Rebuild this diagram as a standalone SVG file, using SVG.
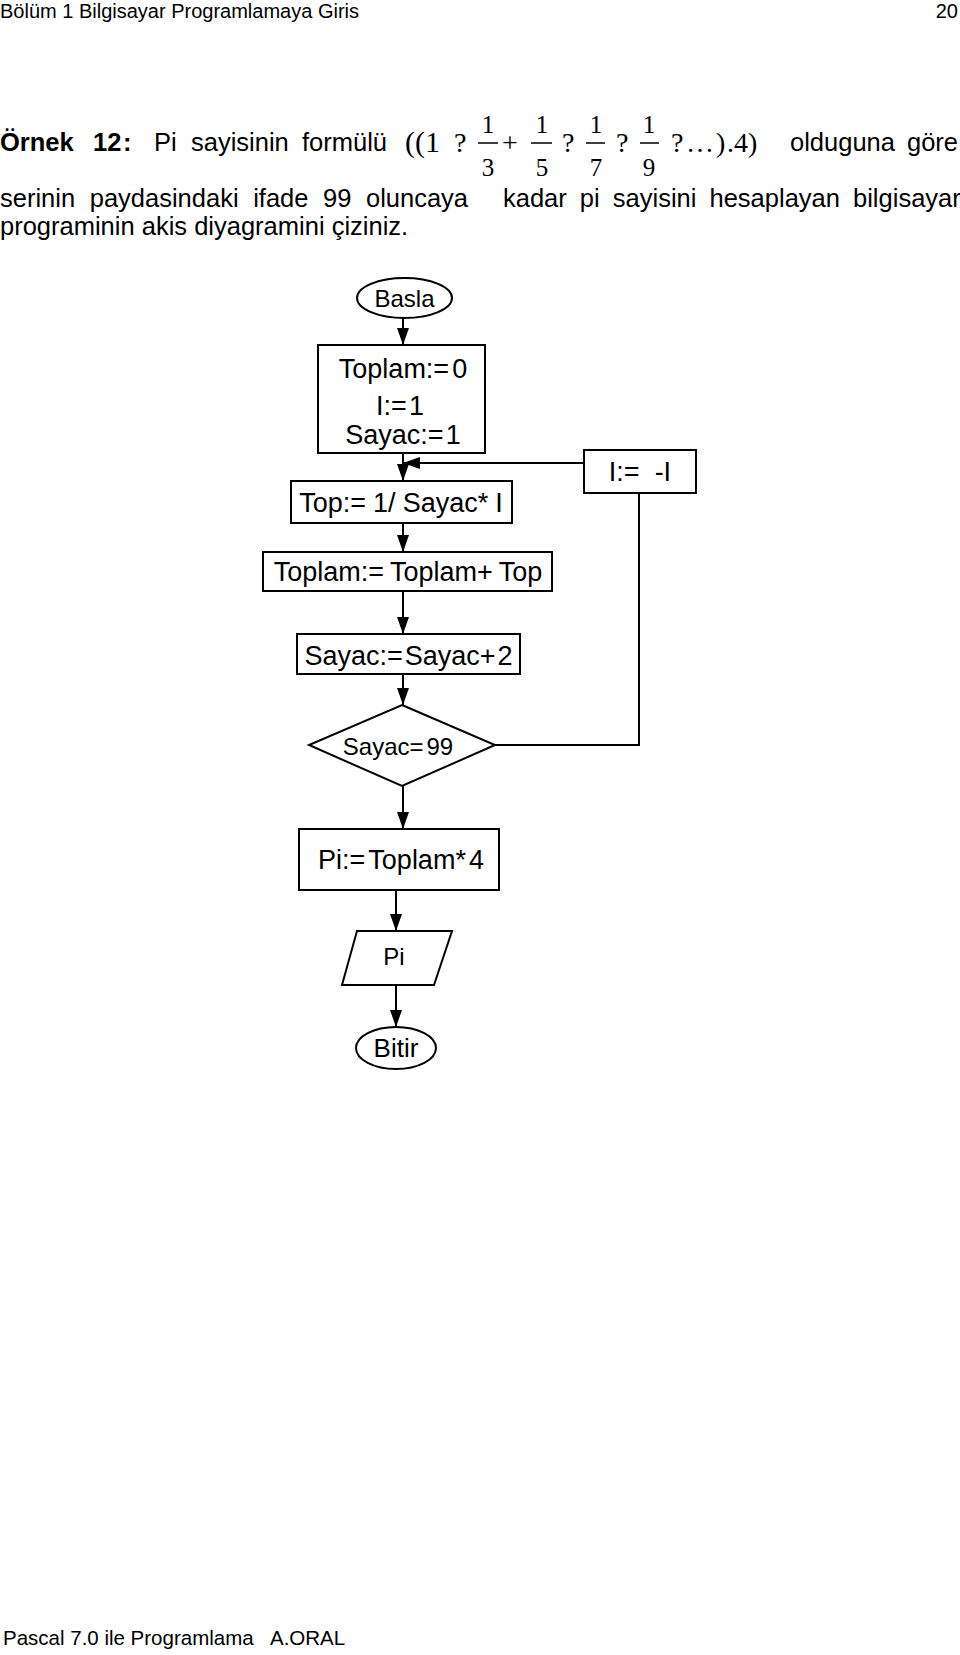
<svg xmlns="http://www.w3.org/2000/svg" width="960" height="1655" viewBox="0 0 960 1655">
<defs>
<style>
text{font-family:"Liberation Sans",Arial,sans-serif;fill:#000}
.hdr{font-size:20px}
.body{font-size:25.5px}
.b{font-weight:bold}
.m{font-family:"Liberation Serif","Times New Roman",serif;font-size:28px}
.f{font-family:"Liberation Serif","Times New Roman",serif;font-size:25px;text-anchor:middle}
.n{font-size:27px;text-anchor:middle}
.s{font-size:24px;text-anchor:middle}
.shape{fill:#fff;stroke:#000;stroke-width:2}
.ln{fill:none;stroke:#000;stroke-width:2}
.bar{stroke:#000;stroke-width:1.5}
</style>
<marker id="ah" markerUnits="userSpaceOnUse" markerWidth="17" markerHeight="12" refX="17" refY="6" orient="auto">
<path d="M0,0 L17,6 L0,12 z" fill="#000"/>
</marker>
</defs>
<rect width="960" height="1655" fill="#fff"/>

<g id="header">
<text class="hdr" x="0" y="18">Bölüm 1 Bilgisayar Programlamaya Giris</text>
<text class="hdr" x="958" y="18" text-anchor="end">20</text>
</g>

<g id="question">
<text class="body b" x="0" y="151">Örnek</text>
<text class="body b" x="93" y="151">12</text>
<text class="body b" x="123" y="151">:</text>
<text class="body" x="154" y="151">Pi</text>
<text class="body" x="191" y="151">sayisinin</text>
<text class="body" x="302" y="151">formülü</text>
<text class="m" x="405" y="152" style="font-size:30px">((1</text>
<text class="m" x="454" y="152">?</text>
<text class="f" x="488" y="133">1</text>
<line class="bar" x1="478" y1="143" x2="498" y2="143"/>
<text class="f" x="488" y="176">3</text>
<text class="m" x="502" y="152">+</text>
<text class="f" x="542" y="133">1</text>
<line class="bar" x1="531" y1="143" x2="552" y2="143"/>
<text class="f" x="542" y="176">5</text>
<text class="m" x="562" y="152">?</text>
<text class="f" x="596" y="133">1</text>
<line class="bar" x1="586" y1="143" x2="605" y2="143"/>
<text class="f" x="596" y="176">7</text>
<text class="m" x="616" y="152">?</text>
<text class="f" x="649" y="133">1</text>
<line class="bar" x1="640" y1="143" x2="659" y2="143"/>
<text class="f" x="649" y="176">9</text>
<text class="m" x="671" y="152">?</text>
<text class="m" x="686" y="152">…</text>
<text class="m" x="716" y="152">)</text>
<text class="m" x="727" y="152">.4)</text>
<text class="body" x="790" y="151">olduguna</text>
<text class="body" x="958" y="151" text-anchor="end">göre</text>
<text class="body" x="0" y="207" word-spacing="7.5">serinin paydasindaki ifade 99 oluncaya</text>
<text class="body" x="503" y="207" word-spacing="6">kadar pi sayisini hesaplayan bilgisayar</text>
<text class="body" x="0" y="235">programinin akis diyagramini çiziniz.</text>
</g>

<g id="connectors">
<line class="ln" x1="403" y1="318" x2="403" y2="345" marker-end="url(#ah)"/>
<line class="ln" x1="403" y1="453" x2="403" y2="481" marker-end="url(#ah)"/>
<line class="ln" x1="584" y1="463" x2="403" y2="463" marker-end="url(#ah)"/>
<line class="ln" x1="403" y1="523" x2="403" y2="552" marker-end="url(#ah)"/>
<line class="ln" x1="403" y1="591" x2="403" y2="634" marker-end="url(#ah)"/>
<line class="ln" x1="403" y1="674" x2="403" y2="705" marker-end="url(#ah)"/>
<polyline class="ln" points="495,745 639,745 639,493"/>
<line class="ln" x1="403" y1="786" x2="403" y2="829" marker-end="url(#ah)"/>
<line class="ln" x1="396" y1="890" x2="396" y2="931" marker-end="url(#ah)"/>
<line class="ln" x1="396" y1="985" x2="396" y2="1027" marker-end="url(#ah)"/>
</g>

<g id="basla">
<ellipse class="shape" cx="404.5" cy="298" rx="47.5" ry="20"/>
<text class="s" x="404.5" y="307">Basla</text>
</g>

<g id="init">
<rect class="shape" x="318" y="345" width="167" height="108"/>
<text class="n" x="403" y="378">Toplam:=<tspan dx="3">0</tspan></text>
<text class="n" x="400" y="415">I:=<tspan dx="2">1</tspan></text>
<text class="n" x="403" y="444">Sayac:=<tspan dx="2">1</tspan></text>
</g>

<g id="negate">
<rect class="shape" x="584" y="450" width="112" height="43"/>
<text class="n" x="640" y="481" xml:space="preserve">I:=  -I</text>
</g>

<g id="top">
<rect class="shape" x="291" y="481" width="221" height="42"/>
<text class="n" x="401" y="512">Top:=<tspan dx="7">1/</tspan><tspan dx="7">Sayac*</tspan><tspan dx="7">I</tspan></text>
</g>

<g id="sum">
<rect class="shape" x="263" y="552" width="289" height="39"/>
<text class="n" x="408" y="581">Toplam:=<tspan dx="6">Toplam+</tspan><tspan dx="6">Top</tspan></text>
</g>

<g id="inc">
<rect class="shape" x="297" y="634" width="223" height="40"/>
<text class="n" x="408.5" y="665">Sayac:=<tspan dx="2">Sayac+</tspan><tspan dx="2">2</tspan></text>
</g>

<g id="cond">
<polygon class="shape" points="402,705 495,745 402,786 309,745"/>
<text class="s" x="398" y="755">Sayac=<tspan dx="3">99</tspan></text>
</g>

<g id="pi">
<rect class="shape" x="299" y="829" width="200" height="61"/>
<text class="n" x="401" y="869">Pi:=<tspan dx="3">Toplam*</tspan><tspan dx="3">4</tspan></text>
</g>

<g id="output">
<polygon class="shape" points="357,931 452,931 434,985 342,985"/>
<text class="s" x="394" y="965">Pi</text>
</g>

<g id="bitir">
<ellipse class="shape" cx="396" cy="1048" rx="40" ry="21"/>
<text class="s" x="396" y="1057" style="font-size:26px">Bitir</text>
</g>

<g id="footer">
<text x="3" y="1645" style="font-size:20.5px">Pascal 7.0 ile Programlama</text>
<text x="270" y="1645" style="font-size:20.5px">A.ORAL</text>
</g>
</svg>
